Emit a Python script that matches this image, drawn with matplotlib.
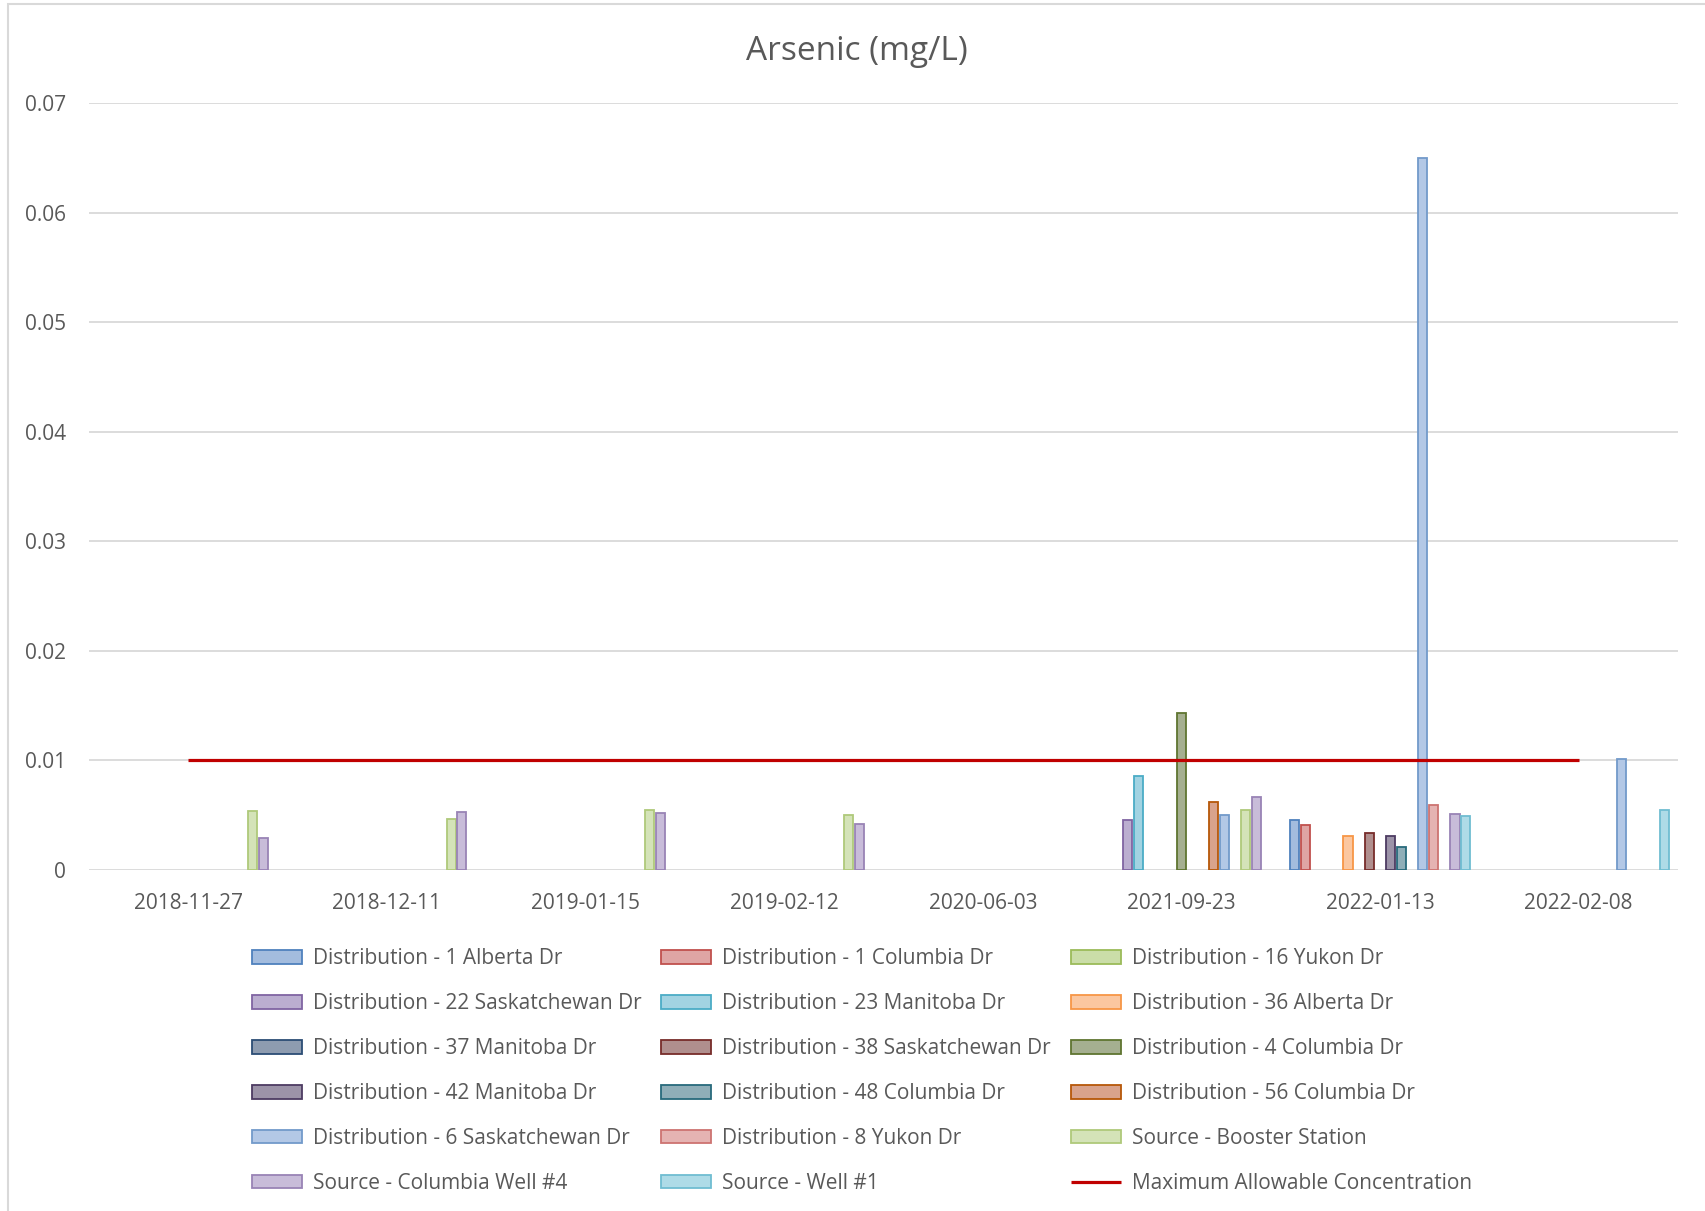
import numpy as np
import matplotlib
matplotlib.use("Agg")
import matplotlib.pyplot as plt
from matplotlib.patches import Rectangle

plt.rcParams['font.family'] = ['Open Sans', 'DejaVu Sans']

nan = np.nan

# Sampling dates (category axis)
dates = ['2018-11-27', '2018-12-11', '2019-01-15', '2019-02-12',
         '2020-06-03', '2021-09-23', '2022-01-13', '2022-02-08']

# Arsenic results per sampling location (mg/L); nan = not sampled
d_1_alberta       = [nan, nan, nan, nan, nan, nan,    0.0046, nan]
d_1_columbia      = [nan, nan, nan, nan, nan, nan,    0.0041, nan]
d_16_yukon        = [nan, nan, nan, nan, nan, nan,    nan,    nan]
d_22_saskatchewan = [nan, nan, nan, nan, nan, 0.0046, nan,    nan]
d_23_manitoba     = [nan, nan, nan, nan, nan, 0.0086, nan,    nan]
d_36_alberta      = [nan, nan, nan, nan, nan, nan,    0.0031, nan]
d_37_manitoba     = [nan, nan, nan, nan, nan, nan,    nan,    nan]
d_38_saskatchewan = [nan, nan, nan, nan, nan, nan,    0.0034, nan]
d_4_columbia      = [nan, nan, nan, nan, nan, 0.0143, nan,    nan]
d_42_manitoba     = [nan, nan, nan, nan, nan, nan,    0.0031, nan]
d_48_columbia     = [nan, nan, nan, nan, nan, nan,    0.0021, nan]
d_56_columbia     = [nan, nan, nan, nan, nan, 0.0062, nan,    nan]
d_6_saskatchewan  = [nan, nan, nan, nan, nan, 0.0050, 0.065,  0.0101]
d_8_yukon         = [nan, nan, nan, nan, nan, nan,    0.0059, nan]
s_booster         = [0.0054, 0.0047, 0.0055, 0.0050, nan, 0.0055, nan, nan]
s_columbia_well4  = [0.0029, 0.0053, 0.0052, 0.0042, nan, 0.0067, 0.0051, nan]
s_well1           = [nan, nan, nan, nan, nan, nan,    0.0049, 0.0055]

# Maximum allowable concentration (mg/L)
mac = [0.01] * len(dates)

series_names = [
    'Distribution - 1 Alberta Dr', 'Distribution - 1 Columbia Dr',
    'Distribution - 16 Yukon Dr', 'Distribution - 22 Saskatchewan Dr',
    'Distribution - 23 Manitoba Dr', 'Distribution - 36 Alberta Dr',
    'Distribution - 37 Manitoba Dr', 'Distribution - 38 Saskatchewan Dr',
    'Distribution - 4 Columbia Dr', 'Distribution - 42 Manitoba Dr',
    'Distribution - 48 Columbia Dr', 'Distribution - 56 Columbia Dr',
    'Distribution - 6 Saskatchewan Dr', 'Distribution - 8 Yukon Dr',
    'Source - Booster Station', 'Source - Columbia Well #4', 'Source - Well #1',
]
series_values = [
    d_1_alberta, d_1_columbia, d_16_yukon, d_22_saskatchewan, d_23_manitoba,
    d_36_alberta, d_37_manitoba, d_38_saskatchewan, d_4_columbia, d_42_manitoba,
    d_48_columbia, d_56_columbia, d_6_saskatchewan, d_8_yukon,
    s_booster, s_columbia_well4, s_well1,
]
edge_colors = ['#4F81BD', '#C0504D', '#9BBB59', '#8064A2', '#4BACC6', '#F79646',
               '#2C4D75', '#772C2A', '#5F7530', '#4D3B62', '#276A7C', '#B65708',
               '#729ACA', '#CD7371', '#AFC97A', '#9983B5', '#6FBDD1']
face_colors = ['#A3BCDE', '#DFA5A4', '#CADDA8', '#BBAED0', '#A2D3E2', '#FBC7A0',
               '#8E9CB0', '#B08F8E', '#A5AF90', '#9C93A8', '#8FAEB8', '#D9A38C',
               '#B3C8E6', '#E5B3B2', '#D4E3B8', '#C8BCD9', '#AEDBE7']

W, H = 1705, 1211
fig = plt.figure(figsize=(W / 100, H / 100), dpi=100)
fig.patch.set_facecolor('white')

# chart-area border
fig.add_artist(Rectangle((8 / W, -0.05), 1.2, 1 - 4 / H + 0.05,
                         transform=fig.transFigure, fill=False,
                         edgecolor='#D9D9D9', linewidth=1.5))

ax = fig.add_axes([89 / W, 1 - 870 / H, (1678 - 89) / W, (870 - 103) / H])

x = np.arange(len(dates))
n = len(series_names)
pitch = 0.0539
bar_w = 0.046

for i, (name, vals) in enumerate(zip(series_names, series_values)):
    ax.bar(x + (i - (n - 1) / 2) * pitch, vals, width=bar_w,
           color=face_colors[i], edgecolor=edge_colors[i], linewidth=1.3,
           label=name, zorder=3)

line, = ax.plot(x, mac, color='#C00000', linewidth=2.3, zorder=4,
                label='Maximum Allowable Concentration', solid_capstyle='butt')

ax.set_xlim(-0.5, len(dates) - 0.5)
ax.set_ylim(0, 0.07)
yticks = [0, 0.01, 0.02, 0.03, 0.04, 0.05, 0.06, 0.07]
ytick_labels = ['0', '0.01', '0.02', '0.03', '0.04', '0.05', '0.06', '0.07']
ax.set_yticks(yticks)
ax.set_yticklabels(ytick_labels)
ax.set_xticks(x)
ax.set_xticklabels(dates)
ax.yaxis.grid(True, color='#D9D9D9', linewidth=1.3, zorder=0)
ax.set_axisbelow(True)
for s in ax.spines.values():
    s.set_visible(False)
ax.tick_params(axis='both', length=0, labelsize=15, colors='#595959')
ax.tick_params(axis='y', pad=16.5)
ax.tick_params(axis='x', pad=16.5)

fig.text(857 / W, 1 - 51 / H, 'Arsenic (mg/L)', ha='center', va='center',
         fontsize=24, color='#595959')

# Legend: three columns laid out row by row
handles, labels = ax.get_legend_handles_labels()
order = series_names + ['Maximum Allowable Concentration']
hmap = dict(zip(labels, handles))
col_x = [252, 661, 1071]
legends = []
for c in range(3):
    names = [order[r * 3 + c] for r in range(6)]
    leg = fig.legend([hmap[k] for k in names], names, loc='upper left',
                     bbox_to_anchor=(col_x[c] / W, 1 - 948 / H),
                     frameon=False, fontsize=15, labelcolor='#595959',
                     handlelength=2.4, handleheight=0.65, handletextpad=0.55,
                     labelspacing=1.15, borderpad=0, borderaxespad=0)
    legends.append(leg)

fig.savefig('out.png', dpi=100, facecolor='white')
